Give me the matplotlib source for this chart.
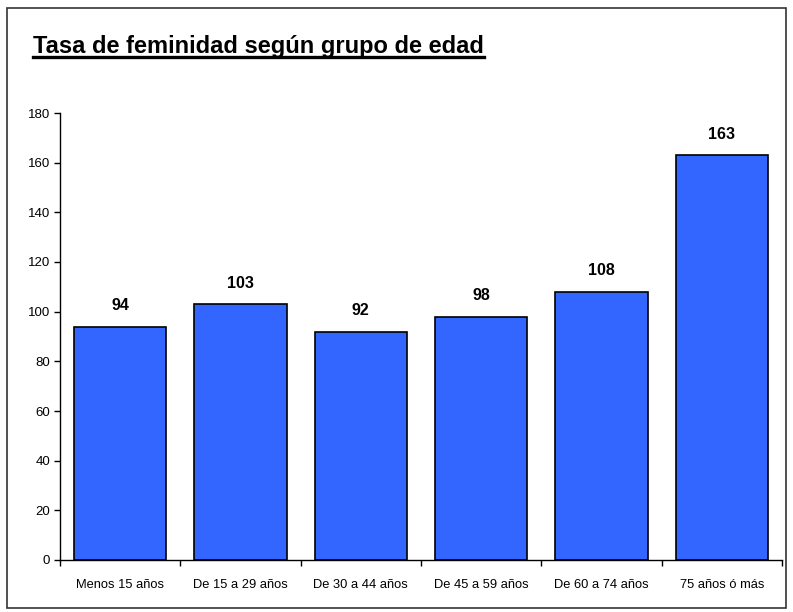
import matplotlib
matplotlib.use("Agg")
import matplotlib.pyplot as plt
from matplotlib.lines import Line2D
from matplotlib.patches import Rectangle
import numpy as np

plt.rcParams['font.family'] = ['Liberation Sans', 'DejaVu Sans']

# datos
grupos = ["Menos 15 años", "De 15 a 29 años", "De 30 a 44 años",
          "De 45 a 59 años", "De 60 a 74 años", "75 años ó más"]
tasa = [94, 103, 92, 98, 108, 163]
y_ticks = [0, 20, 40, 60, 80, 100, 120, 140, 160, 180]

fig = plt.figure(figsize=(7.93, 6.12), dpi=100)
ax = fig.add_axes([60 / 793, (612 - 560) / 612, (782 - 60) / 793, (560 - 113) / 612])

x = np.arange(len(grupos))
ax.bar(x, tasa, width=0.77, color="#3366FF", edgecolor="black", linewidth=1.2, zorder=2)

for xi, v in zip(x, tasa):
    ax.text(xi, v + 5.5, str(v), ha="center", va="bottom", fontsize=11.5, fontweight="bold")

ax.set_xlim(-0.5, len(grupos) - 0.5)
ax.set_ylim(0, 180)
ax.set_yticks(y_ticks)
ax.tick_params(axis="y", labelsize=9.5, length=4, width=1, direction="out", pad=3)

ax.set_xticks(x)
ax.set_xticklabels(grupos, fontsize=9.3)
ax.tick_params(axis="x", which="major", length=0, pad=14)
ax.set_xticks(np.arange(len(grupos) + 1) - 0.5, minor=True)
ax.tick_params(axis="x", which="minor", length=4, width=1, direction="out")

for s in ["top", "right"]:
    ax.spines[s].set_visible(False)
for s in ["left", "bottom"]:
    ax.spines[s].set_linewidth(1)

# titulo subrayado
t = fig.text(33 / 793, 1 - 46 / 612, "Tasa de feminidad según grupo de edad",
             fontsize=17, fontweight="bold", ha="left", va="center")
fig.canvas.draw()
bb = t.get_window_extent().transformed(fig.transFigure.inverted())
fig.add_artist(Line2D([bb.x0, bb.x1], [bb.y0 + 0.001, bb.y0 + 0.001],
                      transform=fig.transFigure, color="black", linewidth=2.4))

# marco exterior
fig.add_artist(Rectangle((7 / 793, 4 / 612), 779 / 793, 600 / 612,
                         transform=fig.transFigure, fill=False,
                         edgecolor="#333333", linewidth=1.2))

fig.savefig("out.png", dpi=100)
